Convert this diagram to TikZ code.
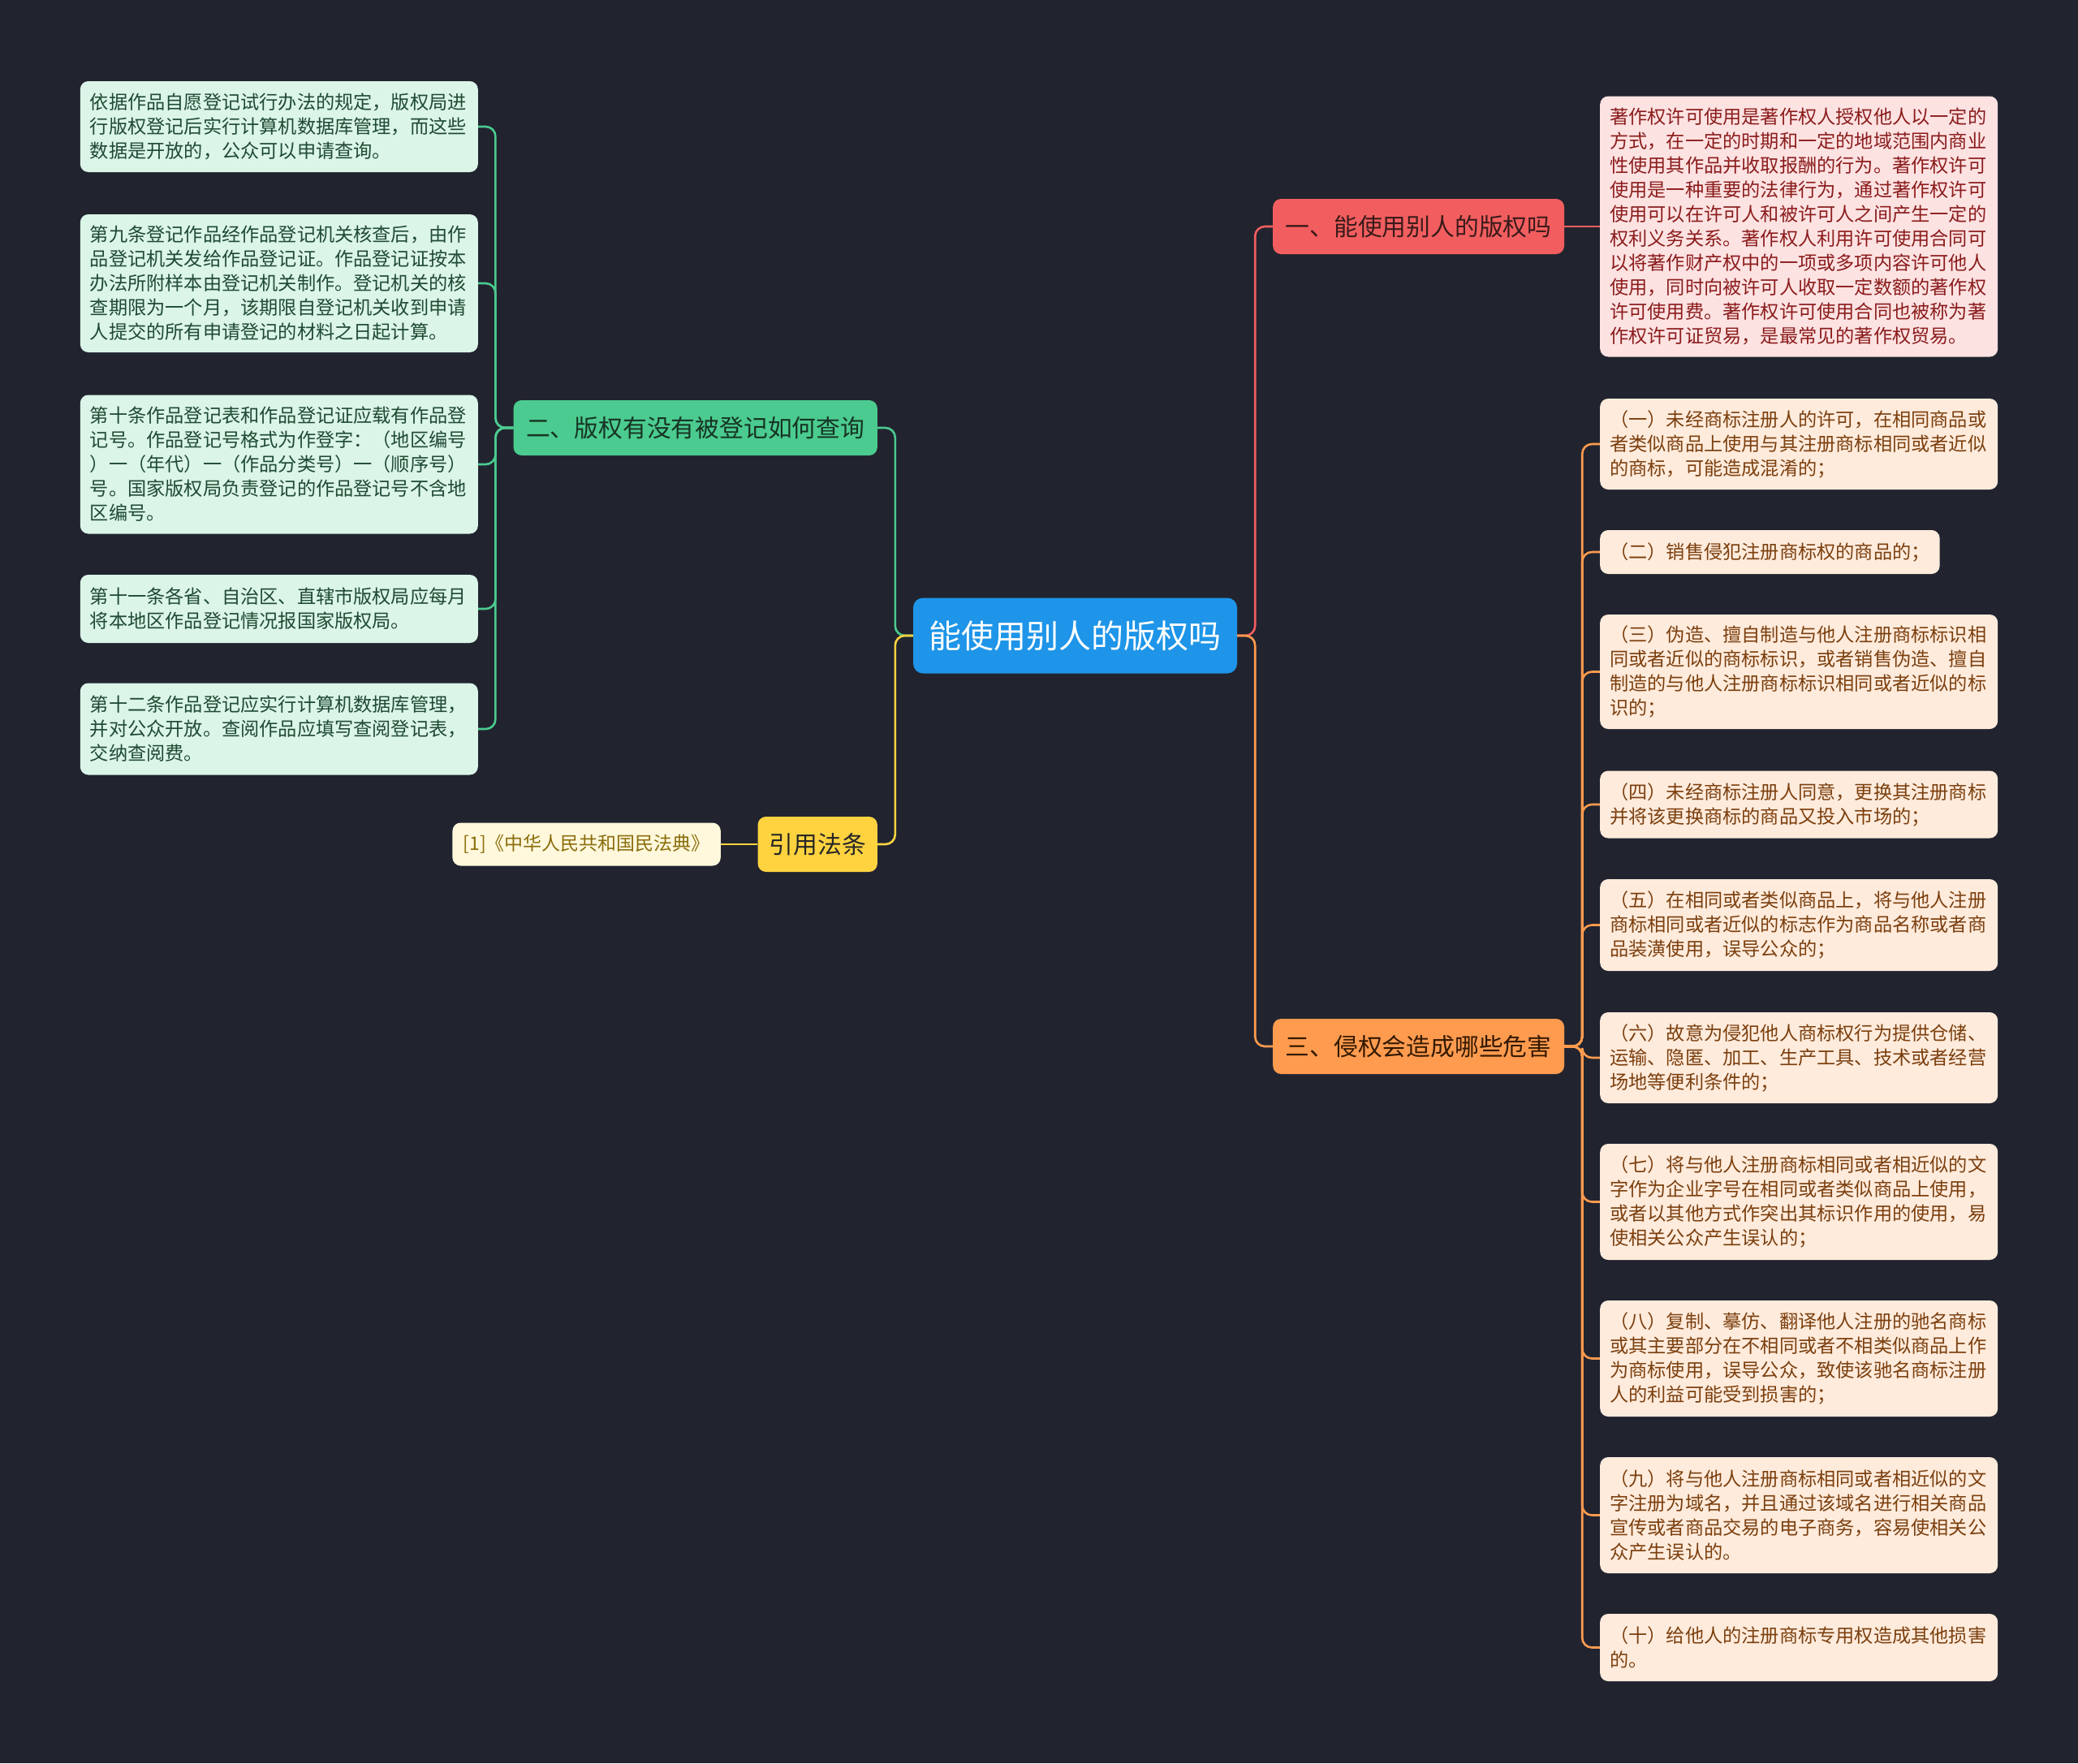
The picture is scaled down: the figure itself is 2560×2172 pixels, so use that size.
\documentclass[tikz,border=0pt]{standalone}
\usepackage{fontspec}
\setmainfont{Noto Sans CJK SC}
\definecolor{bg}{HTML}{21242F}
\definecolor{cblue}{HTML}{1E95E8}
\definecolor{cred}{HTML}{F25E5F}
\definecolor{cgreen}{HTML}{4BCB8F}
\definecolor{corange}{HTML}{FF9B4F}
\definecolor{cyellow}{HTML}{FFD340}
\definecolor{lgreen}{HTML}{DBF5E8}
\definecolor{lred}{HTML}{FDE2E2}
\definecolor{lorange}{HTML}{FFEBDC}
\definecolor{lyellow}{HTML}{FFF8DC}
\definecolor{tgreen}{HTML}{1F4A33}
\definecolor{tred}{HTML}{8B1C1C}
\definecolor{torange}{HTML}{7B3F0E}
\definecolor{tyellow}{HTML}{8A6D0B}
\definecolor{tdark}{HTML}{3A1A1A}
\begin{document}
\begin{tikzpicture}[x=1pt,y=-1pt,
  leafbox/.style={rounded corners=10pt, inner xsep=12pt, inner ysep=0pt, align=left,
    font=\fontsize{23.2pt}{30pt}\selectfont},
  wide/.style={text width=466pt},
  gleaf/.style={leafbox, wide, fill=lgreen, text=tgreen, anchor=east},
  rleaf/.style={leafbox, wide, fill=lred, text=tred, anchor=west},
  oleaf/.style={leafbox, fill=lorange, text=torange, anchor=west},
  branchbox/.style={rounded corners=10pt, inner xsep=15.5pt, inner ysep=0pt, minimum height=68pt,
    font=\fontsize{29.8pt}{34pt}\selectfont, text=tdark},
  conn/.style={line width=2.6pt, rounded corners=12pt}]
\useasboundingbox (0,0) rectangle (2560,2172);
\fill[bg] (0,0) rectangle (2560,2172);

% central
\node[fill=cblue, text=white, rounded corners=12pt, minimum width=399pt, minimum height=93pt,
  inner sep=0pt, font=\fontsize{40pt}{44pt}\selectfont] (c) at (1324.5,783) {能使用别人的版权吗};

% branches
\node[branchbox, fill=cred, anchor=west] (b1) at (1568,279) {一、能使用别人的版权吗};
\node[branchbox, fill=corange, anchor=west, text=black!80!orange] (b3) at (1568,1289) {三、侵权会造成哪些危害};
\node[branchbox, fill=cgreen, anchor=east, text=tgreen!70!black] (b2) at (1081,527) {二、版权有没有被登记如何查询};
\node[branchbox, fill=cyellow, anchor=east, inner xsep=14pt, text=black!85] (y) at (1081,1040) {引用法条};

% green leaves
\node[gleaf, minimum height=112pt] (g1) at (589,156) {依据作品自愿登记试行办法的规定，版权局进\\行版权登记后实行计算机数据库管理，而这些\\数据是开放的，公众可以申请查询。};
\node[gleaf, minimum height=170pt] (g2) at (589,349) {第九条登记作品经作品登记机关核查后，由作\\品登记机关发给作品登记证。作品登记证按本\\办法所附样本由登记机关制作。登记机关的核\\查期限为一个月，该期限自登记机关收到申请\\人提交的所有申请登记的材料之日起计算。};
\node[gleaf, minimum height=171pt] (g3) at (589,572) {第十条作品登记表和作品登记证应载有作品登\\记号。作品登记号格式为作登字：（地区编号\\）一（年代）一（作品分类号）一（顺序号）\\号。国家版权局负责登记的作品登记号不含地\\区编号。};
\node[gleaf, minimum height=84pt] (g4) at (589,750) {第十一条各省、自治区、直辖市版权局应每月\\将本地区作品登记情况报国家版权局。};
\node[gleaf, minimum height=113pt] (g5) at (589,898) {第十二条作品登记应实行计算机数据库管理，\\并对公众开放。查阅作品应填写查阅登记表，\\交纳查阅费。};

% citation
\node[leafbox, fill=lyellow, text=tyellow, anchor=east, minimum height=53pt, inner xsep=13pt,
  font=\fontsize{23pt}{28pt}\selectfont] (cite) at (888,1040) {[1]《中华人民共和国民法典》};

% red leaf
\node[rleaf, minimum height=321pt] (r1) at (1971,279) {著作权许可使用是著作权人授权他人以一定的\\方式，在一定的时期和一定的地域范围内商业\\性使用其作品并收取报酬的行为。著作权许可\\使用是一种重要的法律行为，通过著作权许可\\使用可以在许可人和被许可人之间产生一定的\\权利义务关系。著作权人利用许可使用合同可\\以将著作财产权中的一项或多项内容许可他人\\使用，同时向被许可人收取一定数额的著作权\\许可使用费。著作权许可使用合同也被称为著\\作权许可证贸易，是最常见的著作权贸易。};

% orange leaves
\node[oleaf, wide, minimum height=112pt] (o1) at (1971,547) {（一）未经商标注册人的许可，在相同商品或\\者类似商品上使用与其注册商标相同或者近似\\的商标，可能造成混淆的；};
\node[oleaf, minimum height=54pt] (o2) at (1971,680) {（二）销售侵犯注册商标权的商品的；};
\node[oleaf, wide, minimum height=141pt] (o3) at (1971,827.5) {（三）伪造、擅自制造与他人注册商标标识相\\同或者近似的商标标识，或者销售伪造、擅自\\制造的与他人注册商标标识相同或者近似的标\\识的；};
\node[oleaf, wide, minimum height=83pt] (o4) at (1971,991) {（四）未经商标注册人同意，更换其注册商标\\并将该更换商标的商品又投入市场的；};
\node[oleaf, wide, minimum height=113pt] (o5) at (1971,1139.5) {（五）在相同或者类似商品上，将与他人注册\\商标相同或者近似的标志作为商品名称或者商\\品装潢使用，误导公众的；};
\node[oleaf, wide, minimum height=112pt] (o6) at (1971,1303) {（六）故意为侵犯他人商标权行为提供仓储、\\运输、隐匿、加工、生产工具、技术或者经营\\场地等便利条件的；};
\node[oleaf, wide, minimum height=143pt] (o7) at (1971,1480.5) {（七）将与他人注册商标相同或者相近似的文\\字作为企业字号在相同或者类似商品上使用，\\或者以其他方式作突出其标识作用的使用，易\\使相关公众产生误认的；};
\node[oleaf, wide, minimum height=143pt] (o8) at (1971,1673.5) {（八）复制、摹仿、翻译他人注册的驰名商标\\或其主要部分在不相同或者不相类似商品上作\\为商标使用，误导公众，致使该驰名商标注册\\人的利益可能受到损害的；};
\node[oleaf, wide, minimum height=143pt] (o9) at (1971,1866.5) {（九）将与他人注册商标相同或者相近似的文\\字注册为域名，并且通过该域名进行相关商品\\宣传或者商品交易的电子商务，容易使相关公\\众产生误认的。};
\node[oleaf, wide, minimum height=83pt] (o10) at (1971,2029.5) {（十）给他人的注册商标专用权造成其他损害\\的。};

% connectors from central
\draw[conn, cred] (c.east) -- ++(22,0) |- (b1.west);
\draw[conn, corange] (c.east) -- ++(22,0) |- (b3.west);
\draw[conn, cgreen] (c.west) -- ++(-22,0) |- (b2.east);
\draw[conn, cyellow] (c.west) -- ++(-22,0) |- (y.east);

% branch 1
\draw[conn, cred] (b1.east) -- (r1.west);
% branch 2
\foreach \n in {g1,g2,g3,g4,g5}{
  \draw[conn, cgreen] (b2.west) -- ++(-22,0) |- (\n.east);
}
% citation
\draw[conn, cyellow] (y.west) -- (cite.east);
% branch 3
\foreach \n in {o1,o2,o3,o4,o5,o6,o7,o8,o9,o10}{
  \draw[conn, corange] (b3.east) -- ++(22,0) |- (\n.west);
}
\end{tikzpicture}
\end{document}
